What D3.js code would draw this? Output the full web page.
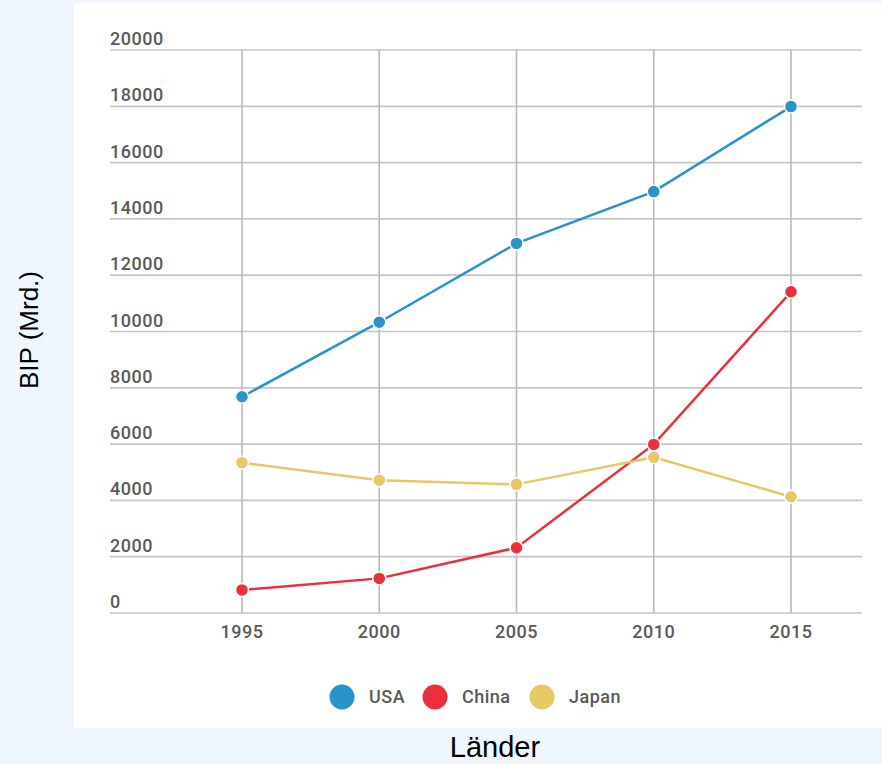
<!DOCTYPE html>
<html>
<head>
<meta charset="utf-8">
<script src="https://cdn.jsdelivr.net/npm/d3@7"></script>
<style>
  html, body { margin: 0; padding: 0; background: #eff6fd; }
  svg { display: block; }
</style>
</head>
<body>
<svg id="chart" width="882" height="764"></svg>
<script>
// GDP in billions, by year
const years = [1995, 2000, 2005, 2010, 2015];
const usa   = [7680, 10330, 13130, 14970, 17990];
const china = [820, 1230, 2320, 5990, 11410];
const japan = [5340, 4720, 4570, 5530, 4130];
const seriesNames = ["USA", "China", "Japan"];
const yTicks = [0, 2000, 4000, 6000, 8000, 10000, 12000, 14000, 16000, 18000, 20000];

const colors = { USA: "#2a93c9", China: "#eb2f3b", Japan: "#e8c766" };
const seriesValues = { USA: usa, China: china, Japan: japan };

const svg = d3.select("#chart");

// white card behind the plot
svg.append("rect")
  .attr("x", 74).attr("y", 3)
  .attr("width", 808).attr("height", 725)
  .attr("fill", "#ffffff");

const gridLeft = 110, gridRight = 862;
const x = d3.scalePoint().domain(years).range([242, 791]);
const y = d3.scaleLinear().domain([0, 20000]).range([613, 50]);

const labelFont = "Roboto, 'Open Sans', sans-serif";

function styleLabel(sel) {
  return sel.attr("font-family", labelFont)
    .attr("font-size", 18)
    .attr("font-weight", 500)
    .attr("letter-spacing", 0.5)
    .attr("fill", "#5a5a5a");
}

// horizontal grid lines and y labels
const gy = svg.append("g");
gy.selectAll("line").data(yTicks).join("line")
  .attr("x1", gridLeft).attr("x2", gridRight)
  .attr("y1", d => y(d)).attr("y2", d => y(d))
  .attr("stroke", "#c6c6c6").attr("stroke-width", 1.7);
gy.selectAll("text").data(yTicks).join("text")
  .attr("x", gridLeft).attr("y", d => y(d) - 5)
  .call(styleLabel)
  .text(d => d);

// vertical grid lines and x labels
const gx = svg.append("g");
gx.selectAll("line").data(years).join("line")
  .attr("x1", d => x(d)).attr("x2", d => x(d))
  .attr("y1", y(20000)).attr("y2", y(0))
  .attr("stroke", "#b9b9b9").attr("stroke-width", 1.6);
gx.selectAll("text").data(years).join("text")
  .attr("x", d => x(d)).attr("y", 638)
  .attr("text-anchor", "middle")
  .call(styleLabel)
  .text(d => d);

// series lines
const line = d3.line().x((d, i) => x(years[i])).y(d => y(d));
seriesNames.forEach(name => {
  svg.append("path")
    .datum(seriesValues[name])
    .attr("d", line)
    .attr("fill", "none")
    .attr("stroke", colors[name])
    .attr("stroke-width", 2.5);
});

// series points
seriesNames.forEach(name => {
  svg.append("g").selectAll("circle").data(seriesValues[name]).join("circle")
    .attr("cx", (d, i) => x(years[i]))
    .attr("cy", d => y(d))
    .attr("r", 6.5)
    .attr("fill", colors[name])
    .attr("stroke", "#ffffff")
    .attr("stroke-width", 1.5);
});

// legend
const legendItems = [
  { name: "USA", cx: 342 },
  { name: "China", cx: 435 },
  { name: "Japan", cx: 542 }
];
const lg = svg.append("g");
lg.selectAll("circle").data(legendItems).join("circle")
  .attr("cx", d => d.cx).attr("cy", 697).attr("r", 12.5)
  .attr("fill", d => colors[d.name]);
lg.selectAll("text").data(legendItems).join("text")
  .attr("x", d => d.cx + 27).attr("y", 703)
  .call(styleLabel)
  .text(d => d.name);

// axis titles
svg.append("text")
  .attr("transform", "translate(38,330) rotate(-90)")
  .attr("text-anchor", "middle")
  .attr("font-family", "'Liberation Sans', Arial, sans-serif")
  .attr("font-size", 26)
  .attr("fill", "#000")
  .text("BIP (Mrd.)");

svg.append("text")
  .attr("x", 495).attr("y", 757)
  .attr("text-anchor", "middle")
  .attr("font-family", "'Liberation Sans', Arial, sans-serif")
  .attr("font-size", 29)
  .attr("fill", "#000")
  .text("Länder");
</script>
</body>
</html>
